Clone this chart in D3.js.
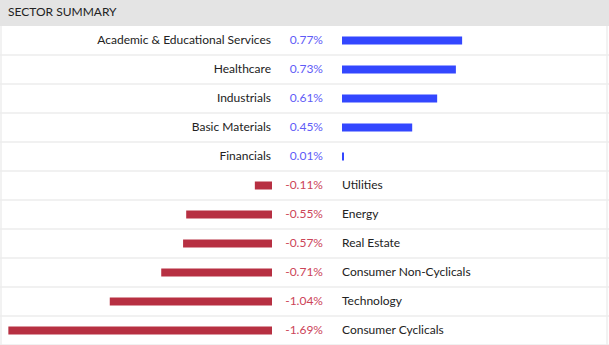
<!DOCTYPE html>
<html><head><meta charset="utf-8">
<script src="https://cdn.jsdelivr.net/npm/d3@7"></script>
<style>body{margin:0;background:#fff}svg{display:block;font-family:Lato,"Open Sans",sans-serif}</style>
</head><body><svg id="c" width="609" height="345"></svg>
<script>
const title = "SECTOR SUMMARY";
const sectors = ["Academic & Educational Services","Healthcare","Industrials","Basic Materials","Financials","Utilities","Energy","Real Estate","Consumer Non-Cyclicals","Technology","Consumer Cyclicals"];
const changes = [0.77,0.73,0.61,0.45,0.01,-0.11,-0.55,-0.57,-0.71,-1.04,-1.69];

const W = 609, H = 345, headerH = 26, rowH = 29;
const svg = d3.select("#c");
svg.append("rect").attr("x",0).attr("y",0).attr("width",W).attr("height",headerH).attr("fill","#e4e4e4");
svg.append("text").attr("x",8).attr("y",16).attr("font-size",12).attr("fill","#222").text(title);

const y = d3.scaleBand().domain(sectors).range([headerH, headerH + rowH*sectors.length]);
const k = 156;
const xPos = d3.scaleLinear().domain([0,1]).range([342, 342+k]);
const xNeg = d3.scaleLinear().domain([-1,0]).range([272-k, 272]);

svg.append("line").attr("x1",1).attr("x2",1).attr("y1",headerH).attr("y2",H).attr("stroke","#eeeeee").attr("stroke-width",1.5);
svg.append("line").attr("x1",607).attr("x2",607).attr("y1",headerH).attr("y2",H).attr("stroke","#eeeeee").attr("stroke-width",1.5);

const g = svg.selectAll("g.row").data(sectors).join("g").attr("class","row")
  .attr("transform", d => `translate(0,${y(d)})`);
g.append("line").attr("x1",0).attr("x2",W).attr("y1",rowH).attr("y2",rowH).attr("stroke","#ededed").attr("stroke-width",1.5);

const bh = 8;
g.append("rect")
  .attr("x",(d,i)=> changes[i]>=0 ? xPos(0) : xNeg(changes[i]))
  .attr("width",(d,i)=> Math.max(2, changes[i]>=0 ? xPos(changes[i])-xPos(0) : xNeg(0)-xNeg(changes[i])))
  .attr("y", rowH/2 - bh/2).attr("height", bh)
  .attr("fill",(d,i)=> changes[i]>=0 ? "#3347ff" : "#b73042");

g.append("text")
  .attr("x",(d,i)=> changes[i]>=0 ? 271 : 342)
  .attr("text-anchor",(d,i)=> changes[i]>=0 ? "end" : "start")
  .attr("y", rowH/2 + 3.5).attr("font-size",12).attr("fill","#222")
  .text(d=>d);

g.append("text")
  .attr("x",323).attr("text-anchor","end")
  .attr("y", rowH/2 + 3.5).attr("font-size",12)
  .attr("fill",(d,i)=> changes[i]>=0 ? "#5f5cf7" : "#cc4458")
  .text((d,i)=> changes[i].toFixed(2) + "%");
</script></body></html>
